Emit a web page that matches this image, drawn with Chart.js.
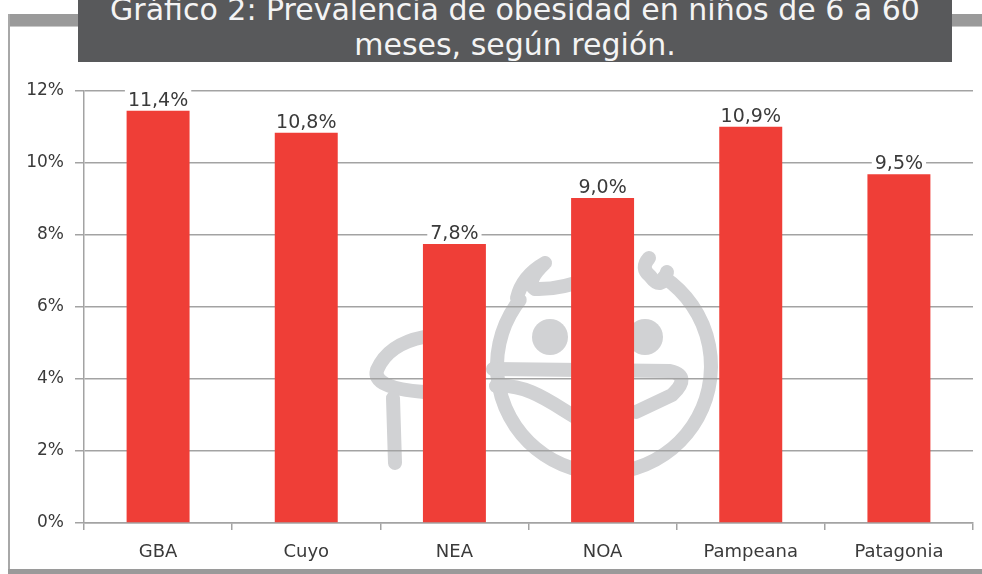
<!DOCTYPE html>
<html>
<head>
<meta charset="utf-8">
<script src="https://cdn.jsdelivr.net/npm/chart.js@4.4.1/dist/chart.umd.min.js"></script>
<style>
  html, body { margin:0; padding:0; background:#fff; }
  #wrap { position:relative; width:982px; height:574px; overflow:hidden; background:#fff; }
  #topband { position:absolute; left:8px; top:14px; width:974px; height:12px; background:#9a9a9a; }
  #topline { position:absolute; left:8px; top:26px; width:974px; height:1px; background:#c8c8c8; }
  #leftline { position:absolute; left:8px; top:14px; width:2px; height:560px; background:#a8a8a8; }
  #bottomband { position:absolute; left:8px; top:569px; width:974px; height:5px; background:#9a9a9a; }
  #title { position:absolute; left:78px; top:0; width:874px; height:62px; background:#58595b; overflow:hidden; z-index:3; }
  #title div { position:absolute; left:0; top:-8px; width:100%; text-align:center; color:#f4f4f4;
    font-family:"DejaVu Sans", sans-serif; font-size:30px; line-height:35px; white-space:nowrap; }
  #c { position:absolute; left:0; top:0; z-index:2; }
</style>
</head>
<body>
<div id="wrap">
  <div id="topband"></div>
  <div id="topline"></div>
  <div id="leftline"></div>
  <div id="bottomband"></div>
  <div id="title"><div>Gráfico 2: Prevalencia de obesidad en niños de 6 a 60<br>meses, según región.</div></div>
  <canvas id="c" width="982" height="574"></canvas>
</div>
<script>
const categories = ["GBA", "Cuyo", "NEA", "NOA", "Pampeana", "Patagonia"];
const values = [11.45, 10.84, 7.75, 9.03, 11.01, 9.69];
const valueLabels = ["11,4%", "10,8%", "7,8%", "9,0%", "10,9%", "9,5%"];
const yTicks = [0, 2, 4, 6, 8, 10, 12];

const FONT = '"DejaVu Sans", sans-serif';
const GRID = '#a3a3a3';
const TEXT = '#3a3a3a';

const watermark = {
  id: 'watermark',
  beforeDraw(chart) {
    const ctx = chart.ctx;
    ctx.save();
    ctx.strokeStyle = '#d1d2d4';
    ctx.fillStyle = '#d1d2d4';
    ctx.lineWidth = 14;
    ctx.lineCap = 'round';
    ctx.lineJoin = 'round';
    const d = Math.PI / 180;
    // face circle
    ctx.beginPath();
    ctx.arc(604, 366, 107, -56 * d, 218 * d, false);
    ctx.stroke();
    // hair left curl
    ctx.beginPath();
    ctx.moveTo(517, 298);
    ctx.quadraticCurveTo(522, 276, 545, 263);
    ctx.moveTo(545, 263);
    ctx.quadraticCurveTo(525, 282, 535, 289);
    ctx.quadraticCurveTo(560, 290, 590, 278);
    ctx.stroke();
    // hair right curl
    ctx.beginPath();
    ctx.moveTo(649, 258);
    ctx.quadraticCurveTo(640, 268, 650, 276);
    ctx.quadraticCurveTo(662, 292, 667, 272);
    ctx.stroke();
    // eyes
    ctx.beginPath(); ctx.arc(550, 337, 18, 0, 2 * Math.PI); ctx.fill();
    ctx.beginPath(); ctx.arc(645, 337, 18, 0, 2 * Math.PI); ctx.fill();
    // mouth upper
    ctx.beginPath();
    ctx.moveTo(493, 369);
    ctx.lineTo(670, 371);
    ctx.quadraticCurveTo(692, 376, 672, 395);
    ctx.lineTo(636, 412);
    ctx.stroke();
    // lower lip
    ctx.beginPath();
    ctx.moveTo(496, 386);
    ctx.bezierCurveTo(530, 384, 552, 404, 582, 421);
    ctx.lineTo(600, 426);
    ctx.stroke();
    // left object
    ctx.beginPath();
    ctx.moveTo(424, 337);
    ctx.quadraticCurveTo(388, 344, 377, 370);
    ctx.quadraticCurveTo(372, 388, 424, 392);
    ctx.stroke();
    ctx.beginPath();
    ctx.moveTo(393, 398);
    ctx.lineTo(395, 463);
    ctx.stroke();
    ctx.restore();
  }
};

const dataLabels = {
  id: 'dataLabels',
  afterDatasetsDraw(chart) {
    const ctx = chart.ctx;
    const meta = chart.getDatasetMeta(0);
    ctx.save();
    ctx.font = '19px ' + FONT;
    ctx.textAlign = 'center';
    ctx.textBaseline = 'alphabetic';
    meta.data.forEach((bar, i) => {
      const txt = valueLabels[i];
      const w = ctx.measureText(txt).width;
      const base = bar.y - 5;
      ctx.fillStyle = '#ffffff';
      ctx.fillRect(bar.x - w / 2 - 3, base - 17, w + 6, 21);
      ctx.fillStyle = TEXT;
      ctx.fillText(txt, bar.x, base);
    });
    ctx.restore();
  }
};

new Chart(document.getElementById('c'), {
  type: 'bar',
  data: {
    labels: categories,
    datasets: [{
      data: values,
      backgroundColor: '#ef3e37',
      borderWidth: 0,
      barPercentage: 0.425,
      categoryPercentage: 1.0
    }]
  },
  options: {
    responsive: false,
    animation: false,
    layout: { padding: { left: 0, right: 9, top: 91, bottom: 0 } },
    plugins: { legend: { display: false }, tooltip: { enabled: false }, title: { display: false } },
    scales: {
      y: {
        min: 0, max: 12,
        afterFit(s) { s.width = 84; },
        afterBuildTicks(s) { s.ticks = yTicks.map(v => ({ value: v })); },
        ticks: { callback: v => v + '%', font: { family: FONT, size: 17 }, color: TEXT, padding: 11 },
        grid: { color: GRID, lineWidth: 1.5, tickLength: 9, drawTicks: true },
        border: { display: true, color: GRID, width: 1.5 }
      },
      x: {
        afterFit(s) { s.height = 51; },
        ticks: { font: { family: FONT, size: 18 }, color: TEXT, padding: 12 },
        grid: { drawOnChartArea: false, drawTicks: true, tickLength: 7, color: GRID, lineWidth: 1.5, offset: true },
        border: { display: true, color: GRID, width: 1.5 }
      }
    }
  },
  plugins: [watermark, dataLabels]
});
</script>
</body>
</html>
